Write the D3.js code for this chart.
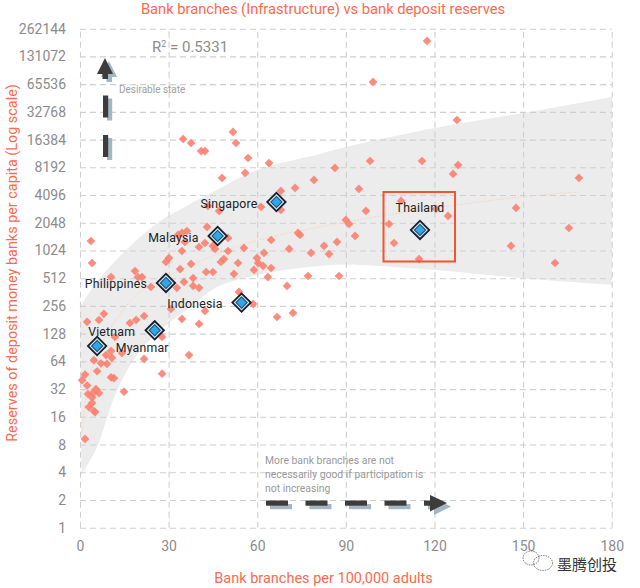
<!DOCTYPE html>
<html>
<head>
<meta charset="utf-8">
<script src="https://cdn.jsdelivr.net/npm/d3@7"></script>
<style>
  html, body { margin: 0; padding: 0; background: #fff; }
  svg { display: block; font-family: Roboto, sans-serif; }
</style>
</head>
<body>
<div id="chart"></div>
<script>
const xTicks = [0, 30, 60, 90, 120, 150, 180];
const yTicks = [1, 2, 4, 8, 16, 32, 64, 128, 256, 512, 1024, 2048, 4096, 8192, 16384, 32768, 65536, 131072, 262144];

// Bank branches per 100,000 adults
const branches = [
  3.7, 4.1, 34.9, 37.6, 41.0, 42.3, 51.8, 52.8, 56.9, 64.0, 55.9, 48.1, 79.2, 72.8, 68.0, 61.3, 68.0, 43.3, 47.1, 43.0,
  36.2, 34.5, 33.2, 35.5, 40.3, 42.3, 45.0, 45.7, 50.1, 50.1, 55.5, 64.7, 73.8, 74.5, 70.8, 78.2, 62.3, 59.9, 60.3, 62.0,
  64.7, 58.9, 63.6, 77.2, 70.1, 34.5, 30.1, 29.1, 33.9, 37.6, 47.7, 48.7, 53.5, 42.7, 45.0, 52.1, 38.3, 35.2, 18.6, 21.0,
  19.6, 10.5, 24.0, 38.3, 40.3, 32.8, 53.8, 58.6, 66.7, 72.1, 30.8, 42.3, 2.4, 6.4, 8.1, 16.9, 19.0, 21.7, 34.5, 40.3,
  27.8, 11.8, 36.9, 21.7, 14.2, 4.7, 7.1, 9.1, 10.8, 8.8, 10.5, 5.8, 1.7, 0.7, 10.5, 11.5, 27.8, 2.4, 5.4, 6.4,
  4.4, 2.7, 4.1, 14.9, 4.1, 3.0, 4.7, 5.1, 1.7, 117.5, 99.2, 127.6, 86.3, 98.2, 115.8, 128.0, 126.3, 94.4, 168.9, 108.7,
  96.8, 120.5, 124.6, 147.6, 90.0, 91.1, 104.6, 165.5, 93.1, 87.0, 82.6, 106.3, 84.3, 145.9, 114.8, 160.8, 87.7
];
// Reserves of deposit money banks per capita, same order as branches
const reserves = [
  1298, 749, 16630, 15040, 12310, 12310, 19830, 15040, 10340, 9120, 7120, 6280, 5975, 4890, 4540, 3040, 2820, 3120, 2750, 1845,
  1667, 1586, 1509, 1267, 1117, 1235, 1146, 1063, 1400, 1011, 1090, 1331, 1586, 1509, 1063, 962, 962, 848, 749, 695,
  661, 629, 527, 541, 422, 1011, 848, 768, 644, 731, 768, 827, 749, 598, 598, 569, 513, 467, 613, 527,
  527, 527, 412, 422, 402, 402, 363, 269, 194, 215, 237, 226, 172, 180, 210, 167, 180, 199, 185, 163,
  118, 118, 75, 68, 79, 66, 61, 60, 70, 75, 83, 50, 46, 40, 43, 42, 47, 35, 32, 29,
  29, 28.3, 26, 30, 22.6, 20.4, 18.5, 18, 9.2, 193100, 69200, 26740, 8070, 9590, 9590, 8670, 6940, 4770, 6280, 3535,
  2750, 2890, 2430, 2965, 2200, 1985, 1985, 1797, 1472, 1267, 1146, 1235, 937, 1146, 827, 749, 541
];

const countries = ['Singapore', 'Malaysia', 'Philippines', 'Indonesia', 'Vietnam', 'Myanmar', 'Thailand'];
const countryBranches = [66.5, 46.6, 29.1, 54.7, 5.8, 25.3, 115.1];
const countryReserves = [3447, 1472, 455, 278, 94, 139, 1712];

// Confidence band
const upperX = [0, 5.4, 15.6, 26.7, 35.9, 45, 60, 81.2, 90, 120, 150, 180];
const upperY = [249, 455, 1038, 2090, 3104, 4420, 7643, 11420, 13590, 21900, 31860, 47620];
const lowerX = [0.5, 5.8, 11.2, 18, 26, 36, 46.4, 55.2, 63.3, 74.5, 85.6, 94.8, 120, 150, 180];
const lowerY = [3.73, 7.5, 24.4, 66, 130, 231, 410, 512, 584, 662, 714, 714, 630, 512, 433];

// Trend line
const trendX = [0.7, 2.4, 6.8, 14.6, 21.3, 51.8, 63.3, 81.2, 108.3, 149, 168.6];
const trendY = [10.7, 31.3, 92, 231, 380, 1090, 1400, 1845, 2610, 3900, 4420];

const width = 640, height = 588;
const margin = { top: 28.7, right: 28.3, bottom: 60.3, left: 80 };
const orange = '#fb6a4f';

const svg = d3.select('#chart').append('svg')
  .attr('width', width)
  .attr('height', height);

const x = d3.scaleLinear().domain([0, 180]).range([margin.left, width - margin.right]);
const y = d3.scaleLog().base(2).domain([1, 262144]).range([height - margin.bottom, margin.top]);

// Band
const bandLine = d3.line().curve(d3.curveCatmullRom.alpha(0.5));
svg.append('path')
  .attr('d', bandLine(upperX.map((d, i) => [x(d), y(upperY[i])]))
    + 'L' + bandLine(lowerX.map((d, i) => [x(d), y(lowerY[i])]).reverse()).slice(1) + 'Z')
  .attr('fill', '#ececec');

// Axes double as the dashed grid
const gridStyle = g => {
  g.select('.domain').remove();
  g.selectAll('.tick line')
    .attr('stroke', '#cfcfcf')
    .attr('stroke-width', 1.1)
    .attr('stroke-dasharray', '6,4');
  g.selectAll('.tick text')
    .attr('fill', '#8c8c8c')
    .attr('font-size', 14)
    .attr('font-family', 'Roboto, sans-serif');
};

svg.append('g')
  .attr('transform', `translate(0, ${height - margin.bottom})`)
  .call(d3.axisBottom(x).tickValues(xTicks).tickSize(-(height - margin.top - margin.bottom)).tickPadding(13).tickFormat(d3.format('d')))
  .call(gridStyle);

svg.append('g')
  .attr('transform', `translate(${margin.left}, 0)`)
  .call(d3.axisLeft(y).tickValues(yTicks).tickSize(-(width - margin.left - margin.right)).tickPadding(14).tickFormat(d3.format('d')))
  .call(gridStyle);

// Trend line
svg.append('path')
  .attr('d', d3.line().curve(d3.curveCatmullRom)(trendX.map((d, i) => [x(d), y(trendY[i])])))
  .attr('fill', 'none')
  .attr('stroke', '#f8d4b8')
  .attr('stroke-width', 1)
  .attr('stroke-dasharray', '1.5,1.5');

// Scatter
const diamond = d3.symbol().type(d3.symbolSquare);
svg.append('g').selectAll('path')
  .data(branches)
  .enter()
  .append('path')
  .attr('d', diamond.size(38)())
  .attr('transform', (d, i) => `translate(${x(d)}, ${y(reserves[i])}) rotate(45)`)
  .attr('fill', '#fc8070')
  .attr('opacity', 0.9);

// Red box around Thailand
svg.append('rect')
  .attr('x', 383.5)
  .attr('y', 192)
  .attr('width', 71.5)
  .attr('height', 69.5)
  .attr('fill', 'none')
  .attr('stroke', '#f4532e')
  .attr('stroke-width', 2);

// Highlighted countries
const hl = svg.append('g').selectAll('g')
  .data(countries)
  .enter()
  .append('g')
  .attr('transform', (d, i) => `translate(${x(countryBranches[i])}, ${y(countryReserves[i])}) rotate(45)`);
hl.append('path')
  .attr('d', diamond.size(170)())
  .attr('fill', '#d6e4ef')
  .attr('stroke', '#15202e')
  .attr('stroke-width', 1.8);
hl.append('path')
  .attr('d', diamond.size(62)())
  .attr('fill', '#2fa6e6')
  .attr('stroke', '#1c4a72')
  .attr('stroke-width', 1);

// label anchor offsets from each diamond
const labelDx = [-19, -19, -19, -19, -9, -39, 0];
const labelDy = [6, 6, 5, 5, -10, 21.5, -18];
const labelAnchor = ['end', 'end', 'end', 'end', 'start', 'start', 'middle'];
svg.append('g').selectAll('text')
  .data(countries)
  .enter()
  .append('text')
  .attr('x', (d, i) => x(countryBranches[i]) + labelDx[i])
  .attr('y', (d, i) => y(countryReserves[i]) + labelDy[i])
  .attr('text-anchor', (d, i) => labelAnchor[i])
  .attr('font-size', 12.3)
  .attr('letter-spacing', 0.2)
  .attr('fill', '#222')
  .text(d => d);

// Titles
svg.append('text')
  .attr('x', 323).attr('y', 14)
  .attr('text-anchor', 'middle')
  .attr('font-size', 14.7)
  .attr('fill', orange)
  .text('Bank branches (Infrastructure) vs bank deposit reserves');

svg.append('text')
  .attr('x', 323.5).attr('y', 583)
  .attr('text-anchor', 'middle')
  .attr('font-size', 14.5)
  .attr('fill', orange)
  .text('Bank branches per 100,000 adults');

svg.append('text')
  .attr('transform', 'translate(17, 263) rotate(-90)')
  .attr('text-anchor', 'middle')
  .attr('font-size', 14.4)
  .attr('fill', orange)
  .text('Reserves of deposit money banks per capita (Log scale)');

// R squared
const r2 = svg.append('text')
  .attr('x', 152).attr('y', 52)
  .attr('font-size', 15)
  .attr('fill', '#8c8c8c');
r2.append('tspan').text('R');
r2.append('tspan').attr('font-size', 9).attr('dy', -5).text('2');
r2.append('tspan').attr('dy', 5).text(' = 0.5331');

// Notes
svg.append('text')
  .attr('x', 119).attr('y', 93)
  .attr('font-size', 10)
  .attr('fill', '#a0a0a0')
  .text('Desirable state');

svg.append('g').selectAll('text')
  .data(['More bank branches are not', 'necessarily good if participation is', 'not increasing'])
  .enter()
  .append('text')
  .attr('x', 265)
  .attr('y', (d, i) => 464 + i * 14)
  .attr('font-size', 10.4)
  .attr('fill', '#999')
  .text(d => d);

// Dashed arrows with a shadow
const arrowDark = '#3c3c3c', arrowShadow = '#a3b7c2';
function arrow(dx, dy, color) {
  const g = svg.append('g').attr('transform', `translate(${dx}, ${dy})`).attr('fill', color);
  // vertical one
  g.append('path').attr('d', 'M105,58L113,74L108,74L108,79L102.5,79L102.5,74L97,74Z');
  g.append('rect').attr('x', 103).attr('y', 95.5).attr('width', 5.2).attr('height', 22);
  g.append('rect').attr('x', 103).attr('y', 135).attr('width', 5.2).attr('height', 22);
  return g;
}
function arrowH(dx, dy, color) {
  const g = svg.append('g').attr('transform', `translate(${dx}, ${dy})`).attr('fill', color);
  [266, 305.5, 345, 384.5].forEach(a => {
    g.append('rect').attr('x', a).attr('y', 500.5).attr('width', 22).attr('height', 5.2);
  });
  g.append('path').attr('d', 'M424,500.5L430,500.5L430,495L447,503L430,511.5L430,505.7L424,505.7Z');
  return g;
}
arrow(4, 3, arrowShadow);
arrow(0, 0, arrowDark);
arrowH(4, 3.5, arrowShadow);
arrowH(0, 0, arrowDark);

// Watermark
const wm = svg.append('g').attr('fill', 'none').attr('stroke', '#555').attr('stroke-width', 0.8).attr('stroke-dasharray', '1.5,1');
wm.append('ellipse').attr('cx', 531).attr('cy', 558).attr('rx', 8).attr('ry', 7);
wm.append('ellipse').attr('cx', 543).attr('cy', 563).attr('rx', 9.5).attr('ry', 7.5);
svg.append('text')
  .attr('x', 557).attr('y', 570)
  .attr('font-family', '"Noto Sans CJK SC"')
  .attr('font-size', 15)
  .attr('fill', '#333')
  .text('墨腾创投');
</script>
</body>
</html>
